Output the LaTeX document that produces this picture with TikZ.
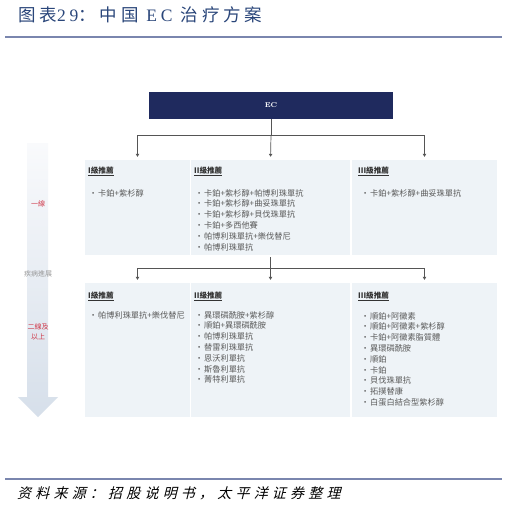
\documentclass[tikz,border=0pt]{standalone}
\usepackage{fontspec}
\usetikzlibrary{arrows.meta}
\newfontfamily\tcfont{Noto Sans CJK TC}
\newfontfamily\titlecjk[LetterSpace=22]{Noto Sans CJK SC}
\newfontfamily\titlelat[LetterSpace=22]{Liberation Serif}
\newfontfamily\srcfont[FakeSlant=0.25,LetterSpace=30]{Noto Sans CJK SC}
\definecolor{navy}{HTML}{1F2A5E}
\definecolor{titleblue}{HTML}{2A467A}
\definecolor{rulecol}{HTML}{7A86AE}
\definecolor{boxfill}{HTML}{EEF3F7}
\definecolor{txtcol}{HTML}{5A5A5A}
\definecolor{hdrcol}{HTML}{333333}
\definecolor{conncol}{HTML}{555555}
\definecolor{redtxt}{HTML}{D0394A}
\definecolor{arrtop}{HTML}{F9FAFC}
\definecolor{arrbot}{HTML}{D6DFEA}
\newcommand\itemlist[4]{%
  \foreach \t [count=\i] in {#4} {\node[itemtxt, name=#3-\i] at (#1, {#2+10.8*(\i-1)}) {\makebox[9pt][l]{\textbullet}\t};}}
\begin{document}
\begin{tikzpicture}[x=1pt,y=-1pt,
  colbox/.style={fill=boxfill, draw=none, inner sep=0pt},
  conn/.style={draw=conncol, line width=0.7pt},
  arr/.style={conn, -{Triangle[length=3pt,width=3.4pt]}, shorten >=3pt},
  itemtxt/.style={anchor=base west, inner sep=0pt, font=\tcfont\fontsize{8.2}{9}\selectfont, text=txtcol},
  hdrtxt/.style={anchor=base west, inner sep=0pt, font=\tcfont\bfseries\fontsize{7.6}{9}\selectfont, text=hdrcol},
  sidetxt/.style={inner sep=0pt, align=center, font=\tcfont\fontsize{7}{10}\selectfont}]
\useasboundingbox (0,0) rectangle (507,506);
\fill[white] (0,0) rectangle (507,506);
% title and rules
\node[anchor=west, inner sep=0pt, text=titleblue, font=\fontsize{17.5}{19}\selectfont] (title) at (18,15)
  {{\titlecjk 图表}{\titlelat 29}{\titlecjk ：中国 }{\titlelat EC }{\titlecjk 治疗方案}};
\draw[rulecol, line width=1.1pt] (5,37) -- (502,37);
\draw[rulecol, line width=1.1pt] (5,479) -- (502,479);
\node[anchor=west, inner sep=0pt, text=black, font=\srcfont\fontsize{14}{15}\selectfont] (src) at (17,493)
  {资料来源：招股说明书，太平洋证券整理};
% left progression arrow
\shade[top color=arrtop, bottom color=arrbot] (27,143) -- (48,143) -- (48,397) -- (58,397) -- (38,417) -- (18,397) -- (27,397) -- cycle;
\node[sidetxt, text=redtxt] (l1) at (38,204) {一線};
\node[sidetxt, text=gray!80] (prog) at (38,274) {疾病進展};
\node[sidetxt, text=redtxt] (l2) at (38,332) {二線及\\以上};
% EC box
\node[fill=navy, minimum width=244pt, minimum height=27pt, inner sep=0pt, text=white, font=\bfseries\fontsize{7}{8}\selectfont] (ec) at (271,105.5) {EC};
% row 1 boxes
\node[colbox, minimum width=105pt, minimum height=95pt] (b11) at (137.5,207.5) {};
\node[colbox, minimum width=159pt, minimum height=95pt] (b12) at (270.5,207.5) {};
\node[colbox, minimum width=145pt, minimum height=95pt] (b13) at (424.5,207.5) {};
% row 2 boxes
\node[colbox, minimum width=105pt, minimum height=134pt] (b21) at (137.5,350) {};
\node[colbox, minimum width=159pt, minimum height=134pt] (b22) at (270.5,350) {};
\node[colbox, minimum width=145pt, minimum height=134pt] (b23) at (424.5,350) {};
% connectors
\draw[conn] (ec.south) -- (ec.south |- 0,135) coordinate (j1);
\draw[arr] (j1) -| (b11.north);
\draw[arr] (j1) -- (b12.north);
\draw[arr] (j1) -| (b13.north);
\draw[conn, shorten <=2pt] (b12.south) -- (b12.south |- 0,268) coordinate (j2);
\draw[arr] (j2) -| (b21.north);
\draw[arr] (j2) -- (b22.north);
\draw[arr] (j2) -| (b23.north);
% headers
\node[hdrtxt] (h11) at (88,173) {\underline{I級推薦}};
\node[hdrtxt] (h12) at (194,173) {\underline{II級推薦}};
\node[hdrtxt] (h13) at (358,173) {\underline{III級推薦}};
\node[hdrtxt] (h21) at (88,298) {\underline{I級推薦}};
\node[hdrtxt] (h22) at (194,298) {\underline{II級推薦}};
\node[hdrtxt] (h23) at (358,298) {\underline{III級推薦}};
% items
\itemlist{89}{196}{i11}{卡鉑+紫杉醇}
\itemlist{195}{196}{i12}{卡鉑+紫杉醇+帕博利珠單抗,卡鉑+紫杉醇+曲妥珠單抗,卡鉑+紫杉醇+貝伐珠單抗,卡鉑+多西他賽,帕博利珠單抗+樂伐替尼,帕博利珠單抗}
\itemlist{361}{196}{i13}{卡鉑+紫杉醇+曲妥珠單抗}
\itemlist{89}{318}{i21}{帕博利珠單抗+樂伐替尼}
\itemlist{195}{318}{i22}{異環磷酰胺+紫杉醇,順鉑+異環磷酰胺,帕博利珠單抗,替雷利珠單抗,恩沃利單抗,斯魯利單抗,菁特利單抗}
\itemlist{361}{319}{i23}{順鉑+阿黴素,順鉑+阿黴素+紫杉醇,卡鉑+阿黴素脂質體,異環磷酰胺,順鉑,卡鉑,貝伐珠單抗,拓撲替康,白蛋白結合型紫杉醇}
\end{tikzpicture}
\end{document}
